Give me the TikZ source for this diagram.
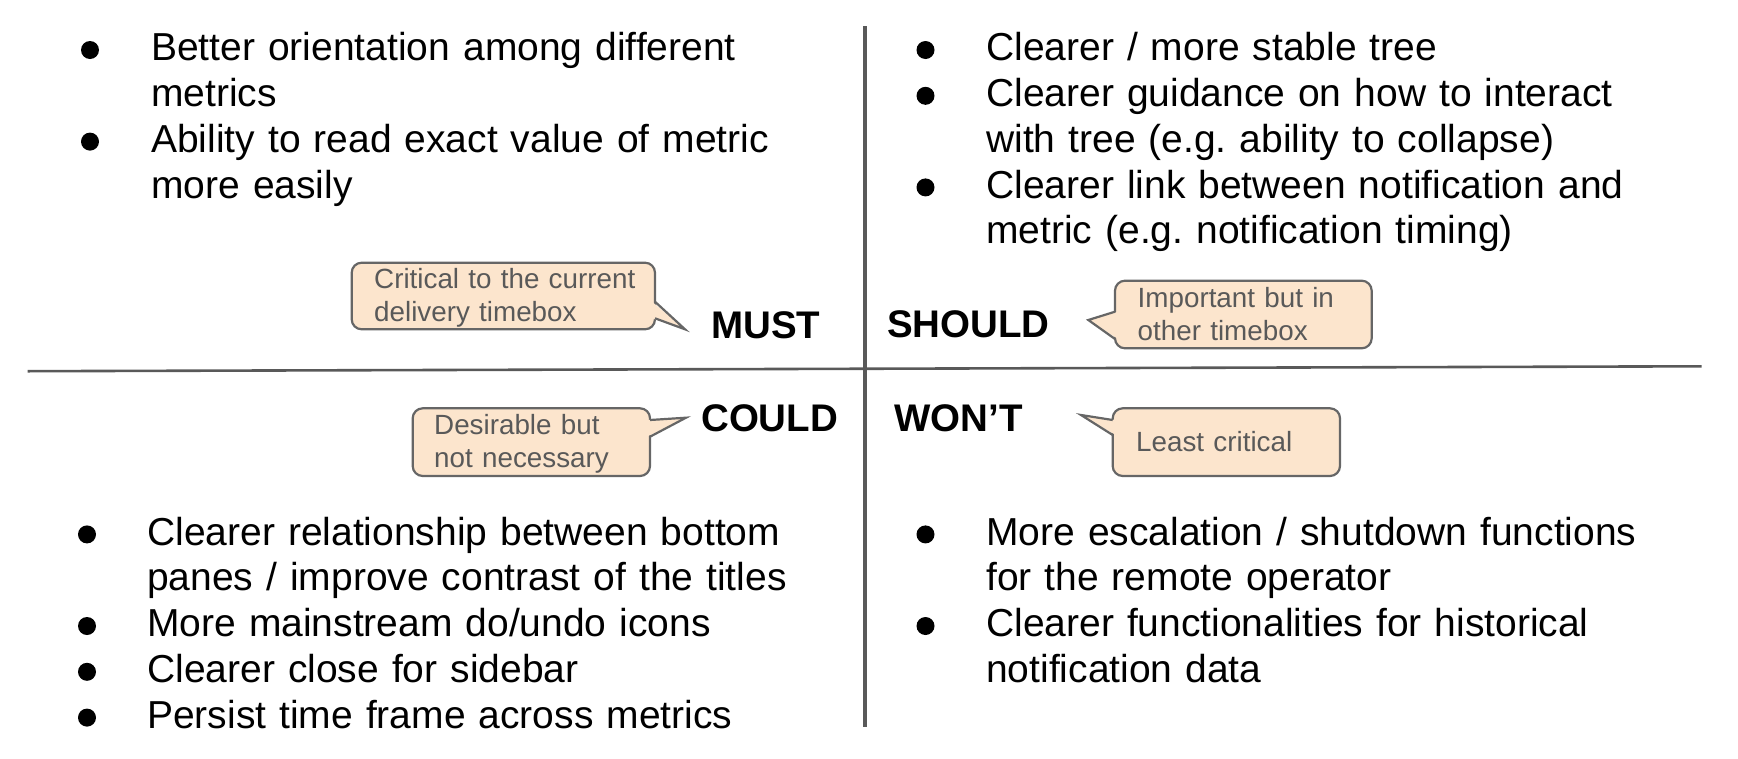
\documentclass[tikz,border=0pt]{standalone}
\usepackage{fontspec}
\setmainfont{Liberation Sans}
\frenchspacing
\definecolor{linegray}{HTML}{595959}
\definecolor{callfill}{HTML}{FCE5CD}
\definecolor{callborder}{HTML}{666666}
\definecolor{calltext}{HTML}{595959}
\tikzset{
  itemtext/.style={anchor=base west, inner sep=0pt, text width=760pt, align=left,
    font=\fontsize{39}{45.8}\selectfont, text=black},
  bul/.style={circle, fill=black, inner sep=0pt, minimum size=18pt},
  prio/.style={anchor=base west, inner sep=0pt, font=\fontsize{38.5}{44}\selectfont\bfseries, text=black},
  calltxt/.style={anchor=base west, inner sep=0pt, text width=300pt, align=left,
    font=\fontsize{27.8}{33.5}\selectfont, text=calltext},
  callbox/.style={draw=callborder, fill=callfill, line width=2.2pt, rounded corners=10pt},
  calltail/.style={draw=callborder, line width=2.2pt, line join=miter},
  divider/.style={draw=linegray}
}
\begin{document}
\begin{tikzpicture}[x=1pt,y=-1pt]
\useasboundingbox (0,0) rectangle (1738,758);

% dividers
\coordinate (vtop) at (865,26);
\coordinate (vbot) at (865,726.7);
\coordinate (hl) at (27.7,371.2);
\coordinate (hr) at (1701.7,366.3);
\draw[divider, line width=4pt] (vtop) -- (vbot);
\draw[divider, line width=2.6pt] (hl) -- (hr);

% top-left (MUST)
\node[bul] (b11) at (90,50) {};
\node[itemtext] (t11) at (151,60.7) {Better orientation among different\\metrics};
\node[bul] (b12) at (90,141.6) {};
\node[itemtext] (t12) at (151,152.3) {Ability to read exact value of metric\\more easily};

% top-right (SHOULD)
\node[bul] (b21) at (925.5,50) {};
\node[itemtext] (t21) at (986,60.7) {Clearer / more stable tree};
\node[bul] (b22) at (925.5,95.8) {};
\node[itemtext] (t22) at (986,106.5) {Clearer guidance on how to interact\\with tree (e.g. ability to collapse)};
\node[bul] (b23) at (925.5,187.4) {};
\node[itemtext] (t23) at (986,198.1) {Clearer link between notification and\\metric (e.g. notification timing)};

% bottom-left (COULD)
\node[bul] (b31) at (87,534.4) {};
\node[itemtext] (t31) at (147,545.1) {Clearer relationship between bottom\\panes / improve contrast of the titles};
\node[bul] (b32) at (87,626) {};
\node[itemtext] (t32) at (147,636.7) {More mainstream do/undo icons};
\node[bul] (b33) at (87,671.8) {};
\node[itemtext] (t33) at (147,682.5) {Clearer close for sidebar};
\node[bul] (b34) at (87,717.6) {};
\node[itemtext] (t34) at (147,728.3) {Persist time frame across metrics};

% bottom-right (WON'T)
\node[bul] (b41) at (925.5,534.4) {};
\node[itemtext] (t41) at (986,545.1) {More escalation / shutdown functions\\for the remote operator};
\node[bul] (b42) at (925.5,626) {};
\node[itemtext] (t42) at (986,636.7) {Clearer functionalities for historical\\notification data};

% priority labels
\node[prio] (must) at (711,338) {MUST};
\node[prio] (should) at (887,337) {SHOULD};
\node[prio] (could) at (701,431) {COULD};
\node[prio] (wont) at (894,431) {WON’T};

% callout 1 (tail to the right)
\draw[callbox] (351.7,262.7) rectangle (655,329.3);
\coordinate (c1a) at (655,301.7);
\coordinate (c1tip) at (685,329.3);
\coordinate (c1b) at (655,318.3);
\fill[callfill] ([xshift=-3pt]c1a) -- (c1tip) -- ([xshift=-3pt]c1b) -- cycle;
\draw[calltail] (c1a) -- (c1tip) -- (c1b);
\node[calltxt] (n1) at (374,288.3) {Critical to the current\\delivery timebox};

% callout 2 (tail to the left)
\draw[callbox] (1115,280.7) rectangle (1371.7,348.3);
\coordinate (c2a) at (1115,311.7);
\coordinate (c2tip) at (1088.3,320);
\coordinate (c2b) at (1115,339);
\fill[callfill] ([xshift=3pt]c2a) -- (c2tip) -- ([xshift=3pt]c2b) -- cycle;
\draw[calltail] (c2a) -- (c2tip) -- (c2b);
\node[calltxt] (n2) at (1137.5,307) {Important but in\\other timebox};

% callout 3 (tail to the right)
\draw[callbox] (412.7,408.3) rectangle (650,476);
\coordinate (c3a) at (650,420);
\coordinate (c3tip) at (686,417.7);
\coordinate (c3b) at (650,436.7);
\fill[callfill] ([xshift=-3pt]c3a) -- (c3tip) -- ([xshift=-3pt]c3b) -- cycle;
\draw[calltail] (c3a) -- (c3tip) -- (c3b);
\node[calltxt] (n3) at (434,434.3) {Desirable but\\not necessary};

% callout 4 (tail to the left)
\draw[callbox] (1112.7,408.3) rectangle (1340,476);
\coordinate (c4a) at (1112.7,420);
\coordinate (c4tip) at (1081,415);
\coordinate (c4b) at (1112.7,435);
\fill[callfill] ([xshift=3pt]c4a) -- (c4tip) -- ([xshift=3pt]c4b) -- cycle;
\draw[calltail] (c4a) -- (c4tip) -- (c4b);
\node[calltxt] (n4) at (1136,451) {Least critical};
\end{tikzpicture}
\end{document}
